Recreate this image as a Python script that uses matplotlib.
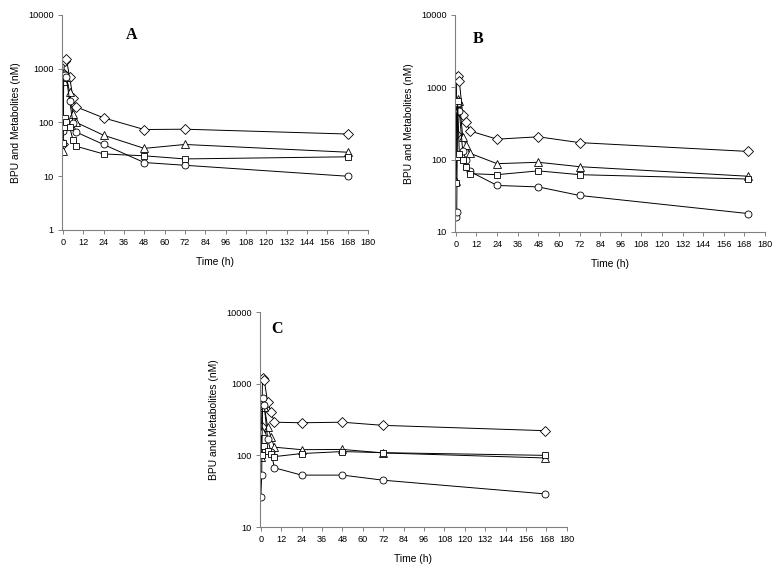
import matplotlib.pyplot as plt

plt.rcParams['font.family'] = ['Liberation Sans', 'DejaVu Sans']

# sampling times (h)
t_a = [0, 0.5, 1, 2, 4, 6, 8, 24, 48, 72, 168]
t_b = [0, 0.5, 1, 2, 4, 6, 8, 24, 48, 72, 170]
t_c = [0, 0.5, 1, 2, 4, 6, 8, 24, 48, 72, 167]

# panel A
a_diamond = [40, 800, 1400, 1550, 700, 280, 195, 122, 74, 75, 61]
a_triangle = [30, 600, 750, 700, 365, 141, 100, 58, 33, 39, 28]
a_circle = [70, 800, 750, 700, 255, 96, 66, 39, 18, 16, 10]
a_square = [42, 83, 120, 100, 83, 47, 36, 26, 24, 21, 23]

# panel B
b_diamond = [227, 1380, 1450, 1230, 415, 330, 250, 192, 207, 172, 130]
b_triangle = [50, 600, 700, 650, 208, 157, 123, 88, 92, 80, 59]
b_circle = [16, 19, 600, 470, 130, 100, 69, 44, 42, 32, 18]
b_square = [48, 110, 650, 120, 100, 78, 64, 62, 70, 62, 54]

# panel C
c_diamond = [220, 250, 1215, 1130, 550, 400, 290, 285, 290, 262, 221]
c_triangle = [95, 220, 500, 480, 250, 180, 130, 120, 121, 108, 92]
c_circle = [26, 53, 630, 500, 170, 110, 67, 53, 53, 45, 29]
c_square = [100, 100, 135, 135, 115, 105, 96, 106, 113, 109, 100]

x_ticks = list(range(0, 181, 12))

panels = [
    ("A", [0.0798, 0.5965, 0.3938, 0.3772], t_a,
     [a_diamond, a_triangle, a_circle, a_square], (1, 10000), (0.228, 0.905)),
    ("B", [0.5856, 0.5930, 0.3990, 0.3807], t_b,
     [b_diamond, b_triangle, b_circle, b_square], (10, 10000), (0.075, 0.888)),
    ("C", [0.3346, 0.0754, 0.3950, 0.3772], t_c,
     [c_diamond, c_triangle, c_circle, c_square], (10, 10000), (0.056, 0.92)),
]
markers = ["D", "^", "o", "s"]
msizes = [4.6, 5.4, 5, 4.8]

fig = plt.figure(figsize=(7.77, 5.70), dpi=100)

for letter, rect, t, series, ylim, lpos in panels:
    ax = fig.add_axes(rect)
    for vals, m, ms in zip(series, markers, msizes):
        ax.plot(t, vals, color="black", linewidth=0.7, marker=m,
                markersize=ms, markerfacecolor="white",
                markeredgecolor="black", markeredgewidth=0.6)
    ax.set_yscale("log")
    ax.set_ylim(*ylim)
    ax.set_xlim(-0.5, 180)
    ax.set_xticks(x_ticks)
    ax.minorticks_off()
    ax.yaxis.set_major_formatter(plt.FuncFormatter(lambda v, p: f"{v:g}"))
    for s in ["top", "right"]:
        ax.spines[s].set_visible(False)
    for s in ["left", "bottom"]:
        ax.spines[s].set_color("#808080")
        ax.spines[s].set_linewidth(0.8)
    ax.tick_params(axis="both", labelsize=6.6, length=3, width=0.7,
                   color="#808080", pad=3)
    ax.set_xlabel("Time (h)", fontsize=7.4, labelpad=7)
    ax.set_ylabel("BPU and Metabolites (nM)", fontsize=7.4, labelpad=5)
    ax.text(lpos[0], lpos[1], letter, transform=ax.transAxes,
            fontsize=11.5, fontweight="bold", family="Liberation Serif",
            ha="center", va="center")

fig.savefig("out.png", dpi=100)
